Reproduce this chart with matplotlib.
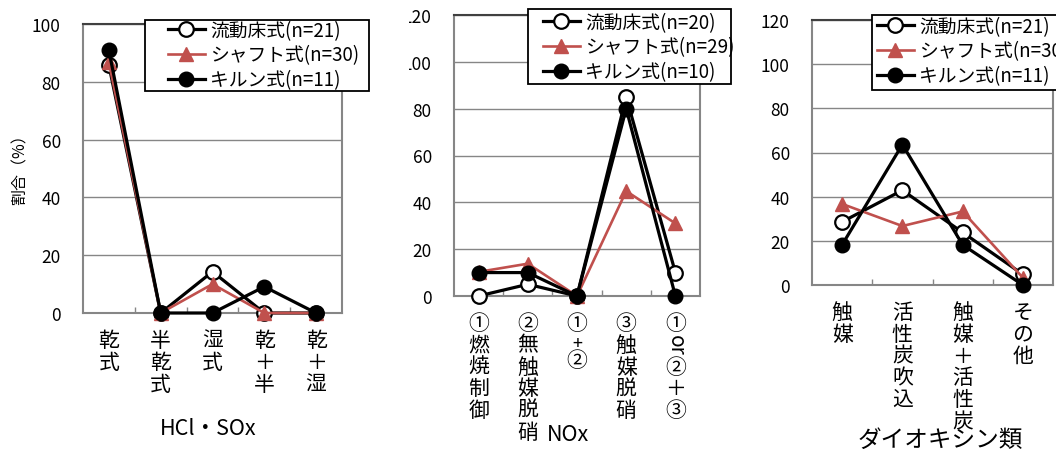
import matplotlib
matplotlib.use('Agg')
import matplotlib.pyplot as plt
from matplotlib.patches import Rectangle
from matplotlib.transforms import offset_copy
import numpy as np

plt.rcParams['font.family'] = ['Noto Sans CJK JP', 'DejaVu Sans']

W, H = 1056, 452

# HCl / SOx
hcl_labels = [['乾', '式'], ['半', '乾', '式'], ['湿', '式'], ['乾', '＋', '半'], ['乾', '＋', '湿']]
hcl_fluid = [85.7, 0, 14.3, 0, 0]
hcl_shaft = [86.7, 0, 10.0, 0, 0]
hcl_kiln = [90.9, 0, 0, 9.1, 0]
hcl_legend = ['流動床式(n=21)', 'シャフト式(n=30)', 'キルン式(n=11)']

# NOx
nox_labels = [['①', '燃', '焼', '制', '御'], ['②', '無', '触', '媒', '脱', '硝'],
              ['①', '+', '②'], ['③', '触', '媒', '脱', '硝'], ['①', 'or', '②', '＋', '③']]
nox_fluid = [0, 5, 0, 85, 10]
nox_shaft = [10.3, 13.8, 0, 44.8, 31.0]
nox_kiln = [10, 10, 0, 80, 0]
nox_legend = ['流動床式(n=20)', 'シャフト式(n=29)', 'キルン式(n=10)']

# dioxins
dxn_labels = [list('触媒'), list('活性炭吹込'), list('触媒＋活性炭'), list('その他')]
dxn_fluid = [28.6, 42.9, 23.8, 4.8]
dxn_shaft = [36.7, 26.7, 33.3, 3.3]
dxn_kiln = [18.2, 63.6, 18.2, 0]
dxn_legend = ['流動床式(n=21)', 'シャフト式(n=30)', 'キルン式(n=11)']

RED = '#C0504D'
GRAY = '#868686'

fig = plt.figure(figsize=(W / 100, H / 100), dpi=100)


def px_axes(l, t, r, b):
    return fig.add_axes([l / W, 1 - b / H, (r - l) / W, (b - t) / H])


def vlabel(ax, x, tokens, fs=15, gap=11.5, pitch=15.7):
    # stacked (vertical) category label, one glyph per row
    y = gap
    for tok in tokens:
        rot = -90 if tok == 'or' else 0
        tr = offset_copy(ax.get_xaxis_transform(), fig=fig, x=0, y=-y, units='points')
        ax.text(x, 0, tok, transform=tr, ha='center', va='top', rotation=rot,
                fontsize=fs if tok != '+' else fs - 2)
        y += pitch * (0.72 if tok == '+' else 1.0)


def panel(box, labels, fluid, shaft, kiln, ymax, leg_labels, leg_box, leg_hx, leg_cy):
    ax = px_axes(*box)
    n = len(labels)
    xs = np.arange(n)
    l1, = ax.plot(xs, fluid, color='black', lw=2.3, marker='o', mfc='white', mec='black',
                  ms=10.5, mew=1.6, clip_on=False, zorder=3)
    l2, = ax.plot(xs, shaft, color=RED, lw=1.9, marker='^', mfc=RED, mec=RED,
                  ms=10.5, clip_on=False, zorder=4)
    l3, = ax.plot(xs, kiln, color='black', lw=2.3, marker='o', mfc='black', mec='black',
                  ms=10.5, clip_on=False, zorder=5)
    ax.set_xlim(-0.5, n - 0.5)
    ax.set_ylim(0, ymax)
    ax.set_yticks(np.arange(0, ymax + 1, 20))
    ax.tick_params(axis='y', length=0, pad=16, labelsize=12.5)
    ax.set_xticks([])
    ax.set_xticks(np.arange(0.5, n - 1, 1), minor=True)
    ax.tick_params(axis='x', which='minor', direction='in', length=4, color=GRAY, width=1)
    ax.yaxis.grid(True, color=GRAY, lw=1)
    ax.set_axisbelow(True)
    for s in ax.spines.values():
        s.set_color(GRAY)
        s.set_linewidth(1.5)
    ax.spines['top'].set_color('#404040')
    for i, tok in enumerate(labels):
        vlabel(ax, i, tok)

    l, t, r, b = leg_box
    fig.add_artist(Rectangle((l / W, 1 - b / H), (r - l) / W, (b - t) / H,
                             transform=fig.transFigure, fc='white', ec='black',
                             lw=1.3, zorder=4))
    fig.legend([l1, l2, l3], leg_labels, loc='center left',
               bbox_to_anchor=(leg_hx / W, 1 - leg_cy / H), bbox_transform=fig.transFigure,
               frameon=False, borderpad=0, borderaxespad=0, fontsize=13.5,
               handlelength=1.95, handletextpad=0.3, labelspacing=0.2)
    return ax


ax1 = panel((83, 25, 342, 314), hcl_labels, hcl_fluid, hcl_shaft, hcl_kiln, 100,
            hcl_legend, (145, 21, 369, 92), 168, 56)
ax2 = panel((454, 16, 700, 297), nox_labels, nox_fluid, nox_shaft, nox_kiln, 120,
            nox_legend, (528, 10, 731, 85), 543, 48)
ax3 = panel((812, 21, 1053, 286), dxn_labels, dxn_fluid, dxn_shaft, dxn_kiln, 120,
            dxn_legend, (872, 16, 1080, 91), 877, 52)

# the first digits of the NOx panel's top tick labels are hidden in the original
fig.add_artist(Rectangle((380 / W, 1 - 80 / H), 29 / W, 80 / H, transform=fig.transFigure,
                         fc='white', ec='none', zorder=6))

fig.text(20 / W, 1 - 166 / H, '割合（%）', rotation=90, ha='center', va='center', fontsize=11.5)
fig.text(208 / W, 1 - 429 / H, 'HCl・SOx', ha='center', va='center', fontsize=15.5)
fig.text(568 / W, 1 - 435 / H, 'NOx', ha='center', va='center', fontsize=15.5)
fig.text(940 / W, 1 - 440 / H, 'ダイオキシン類', ha='center', va='center', fontsize=17)

fig.savefig('out.png', dpi=100)
